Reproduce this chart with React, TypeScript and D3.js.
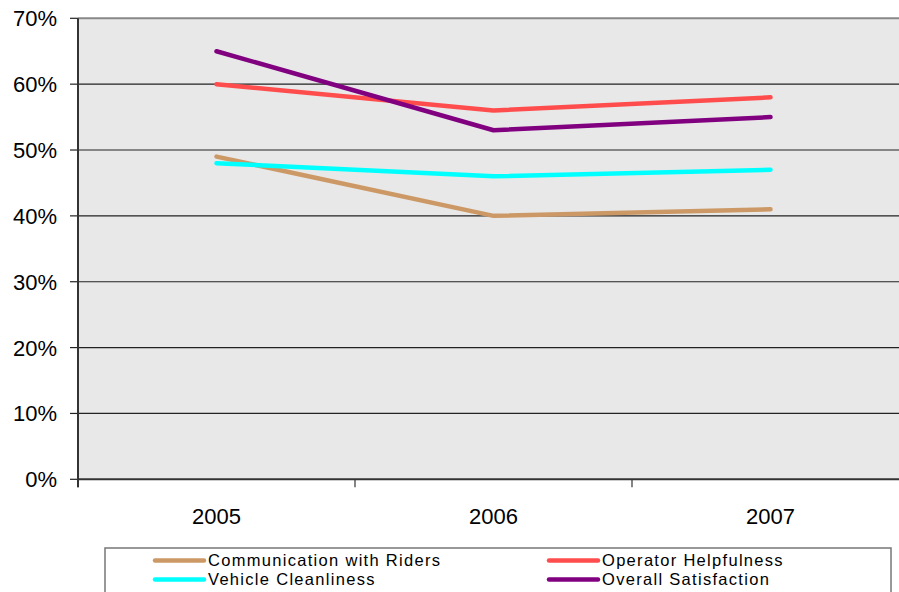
import React from "react";
import * as d3 from "d3";

const categories = ["2005", "2006", "2007"];
const seriesNames = ["Communication with Riders", "Operator Helpfulness", "Vehicle Cleanliness", "Overall Satisfaction"];
const communication = [0.49, 0.40, 0.41];
const operator = [0.60, 0.56, 0.58];
const vehicle = [0.48, 0.46, 0.47];
const overall = [0.65, 0.53, 0.55];
const colors = ["#CC9966", "#FF4D4D", "#00FFFF", "#800080"];
const yTicks = [0, 0.1, 0.2, 0.3, 0.4, 0.5, 0.6, 0.7];

const W = 899, H = 592;
const left = 78, top = 18.3, bottom = 479.3;
const band = 277;
const right = left + band * 3;

export default function App() {
  const x = d3.scaleBand<string>().domain(categories).range([left, right]).padding(0);
  const y = d3.scaleLinear().domain([0, 0.7]).range([bottom, top]);
  const all = [communication, operator, vehicle, overall];
  const line = d3.line<number>()
    .x((_, i) => (x(categories[i]) as number) + x.bandwidth() / 2)
    .y((d) => y(d));
  const font = "'Liberation Sans', Arial, Helvetica, sans-serif";
  const legendItems = [
    { i: 0, lx: 153, ly: 560.5 },
    { i: 1, lx: 547, ly: 560.5 },
    { i: 2, lx: 153, ly: 579.5 },
    { i: 3, lx: 547, ly: 579.5 },
  ];
  return (
    <svg width={W} height={H} style={{ position: "absolute", left: 0, top: 0 }} fontFamily={font}>
      <rect x={0} y={0} width={W} height={H} fill="#ffffff" />
      <rect x={left} y={top} width={right - left} height={bottom - top} fill="#E8E8E8" />
      <line x1={left} x2={right} y1={top} y2={top} stroke="#888" strokeWidth={2} />
      {yTicks.slice(1, -1).map((t) => (
        <line key={t} x1={left} x2={right} y1={y(t)} y2={y(t)} stroke="#222" strokeWidth={1.2} />
      ))}
      {yTicks.map((t) => (
        <g key={"yt" + t}>
          <line x1={70} x2={left} y1={y(t)} y2={y(t)} stroke="#222" strokeWidth={1.2} />
          <text x={57} y={y(t)} dy="0.36em" textAnchor="end" fontSize={22} fill="#000">
            {d3.format(".0%")(t)}
          </text>
        </g>
      ))}
      {categories.map((c, i) => (
        <g key={c}>
          <line x1={left + band * i} x2={left + band * i} y1={bottom} y2={bottom + 8} stroke="#333" strokeWidth={1.2} />
          <text x={(x(c) as number) + x.bandwidth() / 2} y={524} textAnchor="middle" fontSize={22} fill="#000">
            {c}
          </text>
        </g>
      ))}
      <line x1={left} x2={right} y1={bottom} y2={bottom} stroke="#333" strokeWidth={2} />
      <line x1={left} x2={left} y1={top} y2={bottom + 8} stroke="#333" strokeWidth={2} />
      {all.map((s, i) => (
        <path key={i} d={line(s) as string} fill="none" stroke={colors[i]} strokeWidth={4.5} strokeLinecap="round" strokeLinejoin="round" />
      ))}
      <rect x={105} y={548} width={786} height={60} fill="#fff" stroke="#777" strokeWidth={1.5} />
      {legendItems.map(({ i, lx, ly }) => (
        <g key={"lg" + i}>
          <line x1={lx + 2} x2={lx + 51} y1={ly} y2={ly} stroke={colors[i]} strokeWidth={4.5} strokeLinecap="round" />
          <text x={lx + 55} y={ly} dy="0.36em" fontSize={16.5} letterSpacing={1.3} fill="#000">
            {seriesNames[i]}
          </text>
        </g>
      ))}
    </svg>
  );
}
